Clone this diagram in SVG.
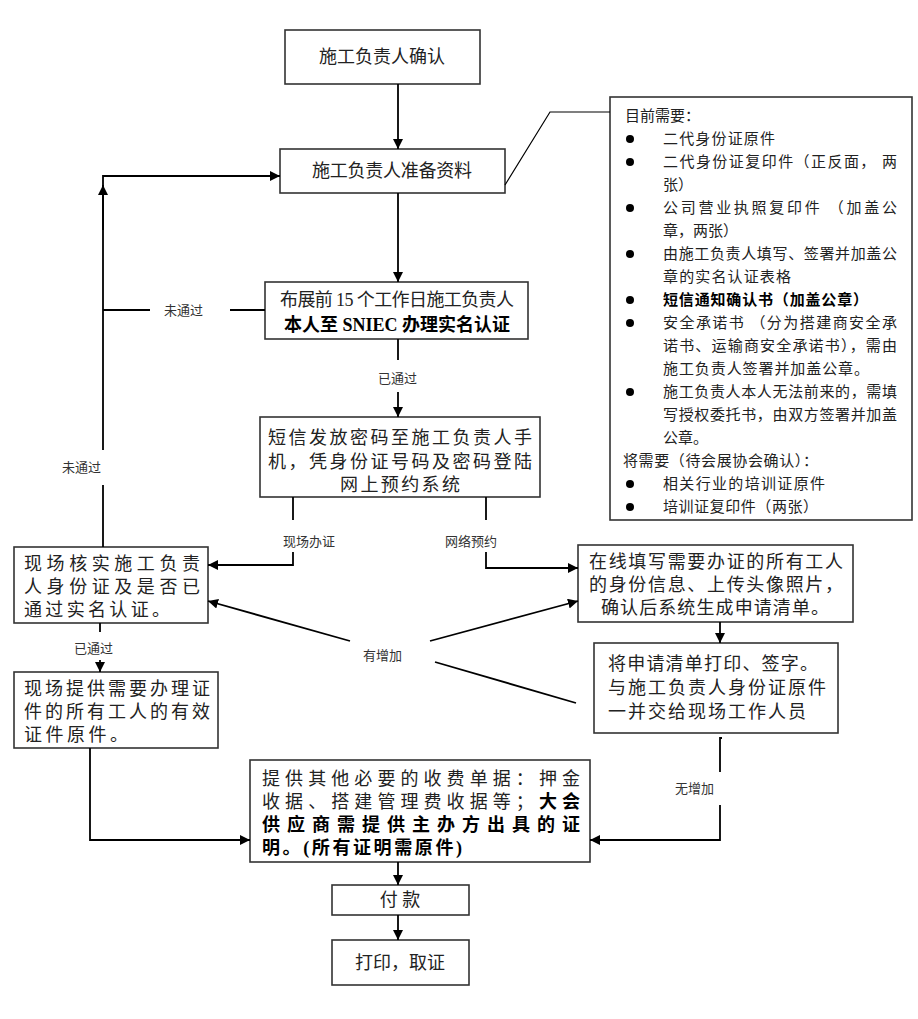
<svg xmlns="http://www.w3.org/2000/svg" width="918" height="1019" viewBox="0 0 918 1019">
<defs>
<marker id="a" viewBox="0 0 10 10" refX="10" refY="5" markerWidth="10" markerHeight="10" markerUnits="userSpaceOnUse" orient="auto"><path d="M0,0L10,5L0,10z" fill="#000"/></marker>
<style>
rect{fill:#fff;stroke:#333;stroke-width:1.6}
text{font-family:"Liberation Serif","Noto Sans CJK SC",serif;fill:#222}
.t{font-size:18px}
.c{text-anchor:middle}
.l{font-size:13px;fill:#333}
.r{font-size:15px}
.b{font-weight:bold;fill:#000}
#conn path,#conn line{fill:none;stroke:#000;stroke-width:1.8}
</style>
</defs>
<g id="n1"><rect x="285" y="30" width="195" height="54"/><text class="t c" x="382" y="63">施工负责人确认</text></g>
<g id="n2"><rect x="280" y="149" width="225" height="44"/><text class="t c" x="392" y="177" textLength="160" lengthAdjust="spacing">施工负责人准备资料</text></g>
<g id="n3"><rect x="265" y="282" width="263" height="57"/><text class="t" x="280" y="306" textLength="234" lengthAdjust="spacing">布展前 15 个工作日施工负责人</text><text class="t b" x="284" y="331" textLength="226" lengthAdjust="spacing">本人至 SNIEC 办理实名认证</text></g>
<g id="n4"><rect x="260" y="417" width="280" height="80"/><text class="t" x="268" y="444" textLength="264" lengthAdjust="spacing">短信发放密码至施工负责人手</text><text class="t" x="268" y="468" textLength="264" lengthAdjust="spacing">机，凭身份证号码及密码登陆</text><text class="t c" x="400" y="491" textLength="120" lengthAdjust="spacing">网上预约系统</text></g>
<g id="n5"><rect x="14" y="547" width="194" height="76"/><text class="t" x="24" y="570" textLength="176" lengthAdjust="spacing">现场核实施工负责</text><text class="t" x="24" y="593" textLength="176" lengthAdjust="spacing">人身份证及是否已</text><text class="t" x="24" y="616" textLength="146" lengthAdjust="spacing">通过实名认证。</text></g>
<g id="n6"><rect x="578" y="545" width="275" height="77"/><text class="t" x="589" y="568" textLength="254" lengthAdjust="spacing">在线填写需要办证的所有工人</text><text class="t" x="589" y="591" textLength="254" lengthAdjust="spacing">的身份信息、上传头像照片，</text><text class="t c" x="715" y="614" textLength="228" lengthAdjust="spacing">确认后系统生成申请清单。</text></g>
<g id="n7"><rect x="594" y="643" width="244" height="90"/><text class="t" x="608" y="670" textLength="210" lengthAdjust="spacing">将申请清单打印、签字。</text><text class="t" x="608" y="694" textLength="218" lengthAdjust="spacing">与施工负责人身份证原件</text><text class="t" x="608" y="718" textLength="198" lengthAdjust="spacing">一并交给现场工作人员</text></g>
<g id="n8"><rect x="14" y="672" width="204" height="76"/><text class="t" x="24" y="695" textLength="186" lengthAdjust="spacing">现场提供需要办理证</text><text class="t" x="24" y="718" textLength="186" lengthAdjust="spacing">件的所有工人的有效</text><text class="t" x="24" y="741" textLength="104" lengthAdjust="spacing">证件原件。</text></g>
<g id="n9"><rect x="250" y="760" width="340" height="102"/><text class="t" x="262" y="785" textLength="318" lengthAdjust="spacing">提供其他必要的收费单据：押金</text><text class="t" x="262" y="808" textLength="318" lengthAdjust="spacing">收据、搭建管理费收据等；<tspan class="b">大会</tspan></text><text class="t b" x="262" y="831" textLength="318" lengthAdjust="spacing">供应商需提供主办方出具的证</text><text class="t b" x="262" y="854" textLength="200" lengthAdjust="spacing">明。(所有证明需原件)</text></g>
<g id="n10"><rect x="332" y="885" width="137" height="30"/><text class="t c" x="400" y="906">付  款</text></g>
<g id="n11"><rect x="332" y="940" width="137" height="45"/><text class="t c" x="400" y="969">打印，取证</text></g>
<g id="note"><rect x="610" y="97" width="302" height="423"/>
<text class="r" x="625" y="121">目前需要：</text>
<g fill="#000"><circle cx="630" cy="139" r="4"/><circle cx="630" cy="162" r="4"/><circle cx="630" cy="208" r="4"/><circle cx="630" cy="254" r="4"/><circle cx="630" cy="300" r="4"/><circle cx="630" cy="323" r="4"/><circle cx="630" cy="392" r="4"/><circle cx="630" cy="484" r="4"/><circle cx="630" cy="507" r="4"/></g>
<text class="r" x="663" y="144" textLength="112" lengthAdjust="spacing">二代身份证原件</text>
<text class="r" x="663" y="167" textLength="234" lengthAdjust="spacing">二代身份证复印件（正反面，  两</text>
<text class="r" x="663" y="190">张）</text>
<text class="r" x="663" y="213" textLength="234" lengthAdjust="spacing">公司营业执照复印件     （加盖公</text>
<text class="r" x="663" y="236">章，两张）</text>
<text class="r" x="663" y="259" textLength="234" lengthAdjust="spacing">由施工负责人填写、签署并加盖公</text>
<text class="r" x="663" y="282" textLength="128" lengthAdjust="spacing">章的实名认证表格</text>
<text class="r b" x="663" y="305" textLength="205" lengthAdjust="spacing">短信通知确认书（加盖公章）</text>
<text class="r" x="663" y="328" textLength="234" lengthAdjust="spacing">安全承诺书 （分为搭建商安全承</text>
<text class="r" x="663" y="351" textLength="234" lengthAdjust="spacing">诺书、运输商安全承诺书），需由</text>
<text class="r" x="663" y="374" textLength="206" lengthAdjust="spacing">施工负责人签署并加盖公章。</text>
<text class="r" x="663" y="397" textLength="234" lengthAdjust="spacing">施工负责人本人无法前来的，需填</text>
<text class="r" x="663" y="420" textLength="234" lengthAdjust="spacing">写授权委托书，由双方签署并加盖</text>
<text class="r" x="663" y="443">公章。</text>
<text class="r" x="623" y="466" textLength="195" lengthAdjust="spacing">将需要（待会展协会确认）：</text>
<text class="r" x="663" y="489" textLength="162" lengthAdjust="spacing">相关行业的培训证原件</text>
<text class="r" x="663" y="512" textLength="155" lengthAdjust="spacing">培训证复印件（两张）</text>
</g>
<g id="conn">
<line x1="398" y1="84" x2="398" y2="149" marker-end="url(#a)"/>
<line x1="398" y1="193" x2="398" y2="282" marker-end="url(#a)"/>
<line x1="398" y1="339" x2="398" y2="360"/>
<line x1="398" y1="392" x2="398" y2="417" marker-end="url(#a)"/>
<path d="M505,185L550,112L610,112" style="stroke-width:1.2"/>
<path d="M265,310H230M150,310H103"/>
<path d="M103,547V485M103,450V176H280" marker-end="url(#a)"/>
<path d="M103,230V185" marker-end="url(#a)"/>
<line x1="293" y1="497" x2="293" y2="520"/>
<path d="M293,552V565H208" marker-end="url(#a)"/>
<line x1="486" y1="497" x2="486" y2="520"/>
<path d="M486,552V568H578" marker-end="url(#a)"/>
<line x1="100" y1="623" x2="100" y2="632"/>
<line x1="100" y1="660" x2="100" y2="672" marker-end="url(#a)"/>
<line x1="350" y1="641" x2="208" y2="601" marker-end="url(#a)"/>
<line x1="430" y1="641" x2="578" y2="601" marker-end="url(#a)"/>
<line x1="435" y1="662" x2="576" y2="703"/>
<line x1="720" y1="622" x2="720" y2="643" marker-end="url(#a)"/>
<path d="M722,738H720V772"/>
<path d="M720,805V840H590" marker-end="url(#a)"/>
<path d="M90,748V840H250" marker-end="url(#a)"/>
<line x1="398" y1="862" x2="398" y2="885" marker-end="url(#a)"/>
<line x1="398" y1="915" x2="398" y2="940" marker-end="url(#a)"/>
</g>
<g id="labels">
<text class="l" x="164" y="315">未通过</text>
<text class="l" x="378" y="383">已通过</text>
<text class="l" x="62" y="472">未通过</text>
<text class="l" x="283" y="546">现场办证</text>
<text class="l" x="445" y="546">网络预约</text>
<text class="l" x="363" y="660">有增加</text>
<text class="l" x="74" y="653">已通过</text>
<text class="l" x="675" y="793">无增加</text>
</g>
</svg>
